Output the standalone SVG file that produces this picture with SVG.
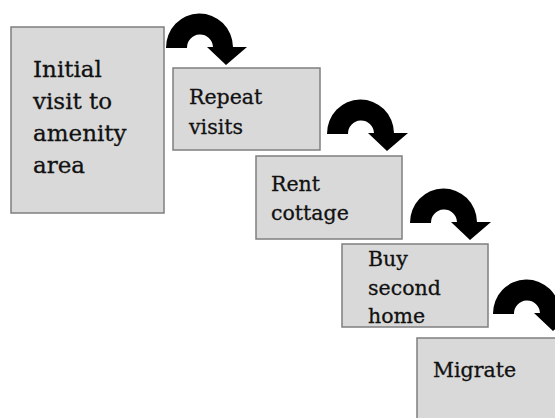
<svg xmlns="http://www.w3.org/2000/svg" xmlns:xlink="http://www.w3.org/1999/xlink" width="555" height="418" viewBox="0 0 555 418">
<style>
.box{fill:#d9d9d9;stroke:#7f7f7f;stroke-width:1.5}
.t{font-family:"DejaVu Serif","Liberation Serif",serif;fill:#111;stroke:#111;stroke-width:0.3}
.big{font-size:23px}
.sm{font-size:20.5px}
.arr{fill:#000}
</style>
<defs>
<path id="carrow" class="arr" d="M0,0 A33.5,34 0 0 1 67,-1 L81,-1 L60,17 L41,-1 L47,-1 A13,13 0 0 0 21,0 Z"/>
</defs>
<rect width="555" height="418" fill="#fff"/>
<g id="n1">
<rect class="box" x="11" y="27" width="153" height="186"/>
<text class="t big" x="33" y="77">Initial</text>
<text class="t big" x="33" y="109">visit to</text>
<text class="t big" x="33" y="141">amenity</text>
<text class="t big" x="33" y="173">area</text>
</g>
<g id="n2">
<rect class="box" x="173" y="68" width="147" height="82"/>
<text class="t sm" x="189" y="104">Repeat</text>
<text class="t sm" x="189" y="134">visits</text>
</g>
<g id="n3">
<rect class="box" x="256" y="156" width="146" height="83"/>
<text class="t sm" x="271" y="191">Rent</text>
<text class="t sm" x="271" y="220">cottage</text>
</g>
<g id="n4">
<rect class="box" x="342" y="244" width="146" height="83"/>
<text class="t sm" x="368" y="266">Buy</text>
<text class="t sm" x="368" y="295">second</text>
<text class="t sm" x="368" y="323">home</text>
</g>
<g id="n5">
<rect class="box" x="417" y="338" width="150" height="90"/>
<text class="t sm" x="433" y="377">Migrate</text>
</g>
<g id="connectors">
<use xlink:href="#carrow" transform="translate(166,48)"/>
<use xlink:href="#carrow" transform="translate(327,134)"/>
<use xlink:href="#carrow" transform="translate(410,223)"/>
<use xlink:href="#carrow" transform="translate(493,314)"/>
</g>
</svg>
